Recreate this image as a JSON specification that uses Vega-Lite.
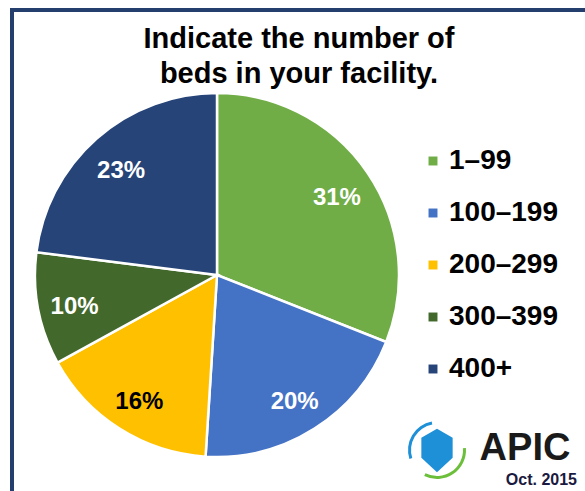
{
  "$schema": "https://vega.github.io/schema/vega-lite/v6.json",
  "width": 364,
  "height": 364,
  "autosize": {"type": "none"},
  "padding": {"left": 35, "top": 93, "right": 186, "bottom": 34},
  "background": "white",
  "view": {"stroke": null},
  "layer": [
    {
      "data": {"values": [
        {"beds": "1–99", "pct": 31, "label": "31%", "order": 1},
        {"beds": "100–199", "pct": 20, "label": "20%", "order": 2},
        {"beds": "200–299", "pct": 16, "label": "16%", "order": 3},
        {"beds": "300–399", "pct": 10, "label": "10%", "order": 4},
        {"beds": "400+", "pct": 23, "label": "23%", "order": 5}
      ]},
      "layer": [
        {
          "mark": {"type": "arc", "stroke": "white", "strokeWidth": 2.5, "outerRadius": 182},
          "encoding": {
            "theta": {"field": "pct", "type": "quantitative", "stack": true},
            "order": {"field": "order", "type": "quantitative"},
            "color": {
              "field": "beds", "type": "nominal",
              "scale": {
                "domain": ["1–99", "100–199", "200–299", "300–399", "400+"],
                "range": ["#70AD47", "#4472C4", "#FFC000", "#43682B", "#264478"]
              },
              "legend": {
                "title": null,
                "orient": "none",
                "legendX": 384,
                "legendY": 54,
                "symbolType": "square",
                "symbolSize": 80,
                "symbolStrokeWidth": 0,
                "labelFont": "Liberation Sans",
                "labelFontSize": 28,
                "labelFontWeight": "bold",
                "labelColor": "black",
                "labelOffset": 2,
                "rowPadding": 24,
                "labelLimit": 300
              }
            }
          }
        },
        {
          "mark": {"type": "text", "radius": 145, "dy": 5, "font": "Liberation Sans", "fontSize": 24, "fontWeight": "bold"},
          "encoding": {
            "theta": {"field": "pct", "type": "quantitative", "stack": true},
            "order": {"field": "order", "type": "quantitative"},
            "text": {"field": "label", "type": "nominal"},
            "color": {
              "condition": {"test": "datum.beds === '200–299'", "value": "black"},
              "value": "white"
            }
          }
        }
      ]
    },
    {
      "data": {"values": [{"t": "title"}]},
      "mark": {"type": "text", "x": 264, "y": -45, "text": ["Indicate the number of", "beds in your facility."], "lineHeight": 35, "font": "Liberation Sans", "fontSize": 29, "fontWeight": "bold", "color": "black", "align": "center", "baseline": "alphabetic"},
      "encoding": {}
    },
    {
      "data": {"values": [{"k": "top"}]},
      "mark": {"type": "rect", "x": -25, "x2": 560, "y": -85, "y2": -81, "color": "#243F6E"},
      "encoding": {}
    },
    {
      "data": {"values": [{"k": "left"}]},
      "mark": {"type": "rect", "x": -25, "x2": -21, "y": -85, "y2": 410, "color": "#243F6E"},
      "encoding": {}
    },
    {
      "data": {"values": [{"t": "APIC"}]},
      "mark": {"type": "text", "x": 490, "y": 367, "font": "Liberation Sans", "fontSize": 38, "letterSpacing": 4, "fontWeight": "bold", "color": "#1a1a1a", "align": "center", "baseline": "alphabetic"},
      "encoding": {"text": {"field": "t", "type": "nominal"}}
    },
    {
      "data": {"values": [{"t": "Oct. 2015"}]},
      "mark": {"type": "text", "x": 542, "y": 392, "font": "Liberation Sans", "fontSize": 16, "fontWeight": "bold", "color": "#1a1a40", "align": "right", "baseline": "alphabetic"},
      "encoding": {"text": {"field": "t", "type": "nominal"}}
    },
    {
      "data": {"values": [{"t": "shield"}]},
      "mark": {"type": "point", "x": 402, "y": 357, "filled": true, "size": 2000, "color": "#1E90D8", "opacity": 1,
        "shape": "M -0.7 -0.55 L 0 -0.95 L 0.7 -0.55 L 0.7 0.35 L 0 1 L -0.7 0.35 Z"},
      "encoding": {}
    },
    {
      "data": {"values": [{"t": "green"}]},
      "mark": {"type": "arc", "x": 402, "y": 357, "innerRadius": 26, "outerRadius": 29, "theta": 1.5, "theta2": 3.6, "color": "#6CBF3A"},
      "encoding": {}
    },
    {
      "data": {"values": [{"t": "blue"}]},
      "mark": {"type": "arc", "x": 402, "y": 357, "innerRadius": 26, "outerRadius": 29, "theta": 4.4, "theta2": 6.1, "color": "#1E90D8"},
      "encoding": {}
    }
  ]
}
